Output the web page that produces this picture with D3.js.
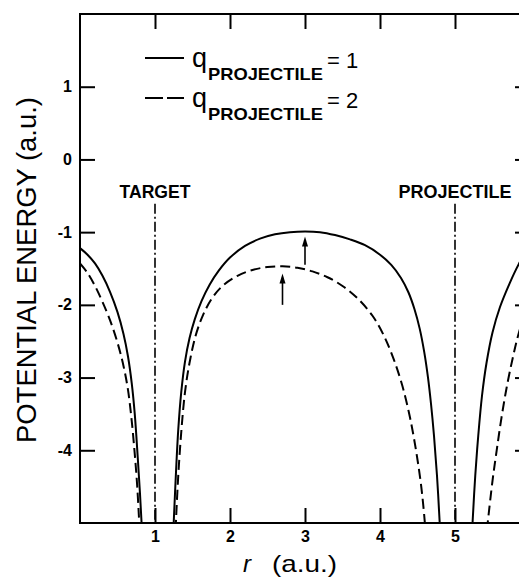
<!DOCTYPE html>
<html>
<head>
<meta charset="utf-8">
<script src="https://cdn.jsdelivr.net/npm/d3@7"></script>
<style>
  body { margin: 0; background: #fff; }
  svg { display: block; }
</style>
</head>
<body>
<div id="chart"></div>
<script>
// ---- data ----
// potential energy curves, [r, V] in a.u.; each curve is split at the two nuclei
var solidLeft = [[0, -1.22], [0.1, -1.31], [0.2, -1.43], [0.3, -1.60], [0.4, -1.82], [0.5, -2.10],
  [0.58, -2.40], [0.64, -2.71], [0.69, -3.08], [0.73, -3.5], [0.77, -4.1], [0.80, -4.6],
  [0.82, -4.98], [0.835, -5.3]];
var solidMid = [[1.235, -5.3], [1.25, -4.98], [1.28, -4.3], [1.31, -3.72], [1.35, -3.2], [1.40, -2.78],
  [1.46, -2.46], [1.53, -2.2], [1.62, -1.95], [1.73, -1.72], [1.85, -1.53], [2.0, -1.35],
  [2.2, -1.19], [2.4, -1.09], [2.6, -1.03], [2.8, -1.0], [3.0, -0.99], [3.2, -1.0],
  [3.4, -1.04], [3.6, -1.1], [3.8, -1.18], [4.0, -1.31], [4.15, -1.45], [4.28, -1.63],
  [4.38, -1.83], [4.46, -2.06], [4.53, -2.33], [4.59, -2.65], [4.64, -3.0], [4.68, -3.36],
  [4.72, -3.8], [4.76, -4.35], [4.795, -4.98], [4.81, -5.3]];
var solidRight = [[5.22, -5.3], [5.235, -4.98], [5.27, -4.35], [5.31, -3.8], [5.36, -3.25], [5.42, -2.8],
  [5.5, -2.38], [5.6, -2.03], [5.73, -1.70], [5.85, -1.44], [6.0, -1.18]];

var dashedLeft = [[0, -1.43], [0.1, -1.56], [0.2, -1.74], [0.3, -1.96], [0.4, -2.21], [0.5, -2.52],
  [0.58, -2.84], [0.64, -3.17], [0.69, -3.6], [0.73, -4.05], [0.76, -4.45], [0.785, -4.9],
  [0.80, -5.2]];
var dashedMid = [[1.265, -5.3], [1.28, -4.96], [1.31, -4.35], [1.35, -3.75], [1.40, -3.2], [1.46, -2.8],
  [1.54, -2.43], [1.64, -2.14], [1.76, -1.91], [1.9, -1.74], [2.1, -1.6], [2.3, -1.52],
  [2.5, -1.48], [2.7, -1.47], [2.9, -1.49], [3.1, -1.54], [3.3, -1.62], [3.5, -1.74],
  [3.7, -1.91], [3.9, -2.15], [4.05, -2.42], [4.18, -2.74], [4.3, -3.12], [4.4, -3.55],
  [4.48, -4.0], [4.55, -4.5], [4.595, -4.96], [4.615, -5.25]];
var dashedRight = [[5.425, -5.1], [5.44, -4.96], [5.5, -4.42], [5.556, -4.0], [5.62, -3.55], [5.69, -3.13],
  [5.77, -2.73], [5.85, -2.39], [6.0, -1.9]];

// nuclei positions (dash-dot lines) and their labels
var nucleusR = [1, 5];
var nucleusLabels = ['TARGET', 'PROJECTILE'];

// arrows marking the barrier tops
var arrowR = [3, 2.7];
var arrowFrom = [-1.45, -2.0];
var arrowTo = [-1.06, -1.57];

// ticks
var xTicks = [1, 2, 3, 4, 5];
var yTicks = [-4, -3, -2, -1, 0, 1];
var legendCharges = ['1', '2'];

// ---- layout ----
var w = 519, h = 582;
var plotLeft = 80, plotRight = 530, plotTop = 14, plotBottom = 523;
var tickLen = 15;
var font = "'Liberation Sans', Arial, sans-serif";

var x = d3.scaleLinear().domain([0, 6]).range([plotLeft, plotRight]);
var y = d3.scaleLinear().domain([-5, 2]).range([plotBottom, plotTop]);

var svg = d3.select('#chart').append('svg')
  .attr('width', w)
  .attr('height', h)
  .attr('style', 'background-color: white');

svg.append('clipPath').attr('id', 'plot-clip')
  .append('rect')
  .attr('x', plotLeft).attr('y', plotTop)
  .attr('width', plotRight - plotLeft).attr('height', plotBottom - plotTop);

// frame
svg.append('rect')
  .attr('x', plotLeft).attr('y', plotTop)
  .attr('width', plotRight - plotLeft).attr('height', plotBottom - plotTop)
  .attr('fill', 'none')
  .attr('stroke', '#000')
  .attr('stroke-width', 2);

// axes, ticks point inward
var yAxis = d3.axisLeft(y).tickValues(yTicks).tickSizeInner(-tickLen).tickSizeOuter(0).tickPadding(8)
  .tickFormat(function(d) { return d < 0 ? '-' + Math.abs(d) : String(d); });
var xAxis = d3.axisBottom(x).tickValues(xTicks).tickSizeInner(-tickLen).tickSizeOuter(0).tickPadding(8)
  .tickFormat(d3.format('d'));

function styleAxis(g, showLabels) {
  g.select('.domain').remove();
  g.selectAll('.tick line').attr('stroke', '#000').attr('stroke-width', 2);
  g.selectAll('.tick text')
    .attr('fill', '#000')
    .attr('font-family', font)
    .attr('font-weight', 'bold')
    .attr('font-size', 16);
  if (!showLabels) g.selectAll('.tick text').remove();
}

svg.append('g').attr('transform', 'translate(' + plotLeft + ',0)').call(yAxis).call(styleAxis, true);
svg.append('g').attr('transform', 'translate(' + plotRight + ',0)')
  .call(d3.axisRight(y).tickValues(yTicks).tickSizeInner(-tickLen).tickSizeOuter(0))
  .call(styleAxis, false);
svg.append('g').attr('transform', 'translate(0,' + plotBottom + ')').call(xAxis).call(styleAxis, true);
svg.append('g').attr('transform', 'translate(0,' + plotTop + ')')
  .call(d3.axisTop(x).tickValues(xTicks).tickSizeInner(-tickLen).tickSizeOuter(0))
  .call(styleAxis, false);

// dash-dot lines at the nuclei
var nuclei = svg.append('g');
nuclei.selectAll('line')
  .data(nucleusR)
  .enter().append('line')
  .attr('x1', function(d) { return x(d); })
  .attr('x2', function(d) { return x(d); })
  .attr('y1', y(-0.61))
  .attr('y2', plotBottom)
  .attr('stroke', '#000')
  .attr('stroke-width', 1.6)
  .attr('stroke-dasharray', '10,3,2,3');

nuclei.selectAll('text')
  .data(nucleusR)
  .enter().append('text')
  .attr('x', function(d) { return x(d); })
  .attr('y', 198)
  .attr('text-anchor', 'middle')
  .attr('font-family', font)
  .attr('font-weight', 'bold')
  .attr('font-size', 18)
  .attr('textLength', function(d, i) { return i === 0 ? 71 : 113; })
  .attr('lengthAdjust', 'spacingAndGlyphs')
  .text(function(d, i) { return nucleusLabels[i]; });

// curves
var line = d3.line()
  .x(function(d) { return x(d[0]); })
  .y(function(d) { return y(d[1]); })
  .curve(d3.curveCatmullRom.alpha(0.5));

var curves = svg.append('g').attr('clip-path', 'url(#plot-clip)');
[solidLeft, solidMid, solidRight].forEach(function(c) {
  curves.append('path')
    .attr('d', line(c))
    .attr('fill', 'none')
    .attr('stroke', '#000')
    .attr('stroke-width', 2);
});
[dashedLeft, dashedMid, dashedRight].forEach(function(c) {
  curves.append('path')
    .attr('d', line(c))
    .attr('fill', 'none')
    .attr('stroke', '#000')
    .attr('stroke-width', 2)
    .attr('stroke-dasharray', '10,5');
});

// arrows
var arrows = svg.append('g');
arrowR.forEach(function(r, i) {
  var ax = x(r), yTip = y(arrowTo[i]);
  arrows.append('line')
    .attr('x1', ax).attr('x2', ax)
    .attr('y1', y(arrowFrom[i])).attr('y2', yTip + 6)
    .attr('stroke', '#000')
    .attr('stroke-width', 1.6);
  arrows.append('path')
    .attr('d', 'M' + ax + ',' + yTip + 'L' + (ax - 3) + ',' + (yTip + 10) + 'L' + (ax + 3) + ',' + (yTip + 10) + 'Z')
    .attr('fill', '#000');
});

// legend
var legend = svg.append('g');
legendCharges.forEach(function(q, i) {
  var ly = 58 + i * 40;
  legend.append('line')
    .attr('x1', 145).attr('x2', 184)
    .attr('y1', ly).attr('y2', ly)
    .attr('stroke', '#000')
    .attr('stroke-width', 2)
    .attr('stroke-dasharray', i === 0 ? null : '18,4');
  legend.append('text')
    .attr('x', 192).attr('y', ly + 9)
    .attr('font-family', font)
    .attr('font-size', 27)
    .text('q');
  legend.append('text')
    .attr('x', 208).attr('y', ly + 22)
    .attr('font-family', font)
    .attr('font-weight', 'bold')
    .attr('font-size', 17)
    .attr('textLength', 115)
    .attr('lengthAdjust', 'spacingAndGlyphs')
    .text('PROJECTILE');
  legend.append('text')
    .attr('x', 327).attr('y', ly + 10)
    .attr('font-family', font)
    .attr('font-size', 22)
    .text('= ' + q);
});

// axis titles
svg.append('text')
  .attr('x', 243).attr('y', 572)
  .attr('font-family', font)
  .attr('font-style', 'italic')
  .attr('font-size', 24)
  .text('r');
svg.append('text')
  .attr('x', 272).attr('y', 572)
  .attr('font-family', font)
  .attr('font-size', 24)
  .attr('textLength', 65)
  .attr('lengthAdjust', 'spacingAndGlyphs')
  .text('(a.u.)');

svg.append('text')
  .attr('transform', 'translate(36,270) rotate(-90)')
  .attr('text-anchor', 'middle')
  .attr('font-family', font)
  .attr('font-size', 27)
  .attr('textLength', 346)
  .attr('lengthAdjust', 'spacingAndGlyphs')
  .text('POTENTIAL ENERGY (a.u.)');
</script>
</body>
</html>
